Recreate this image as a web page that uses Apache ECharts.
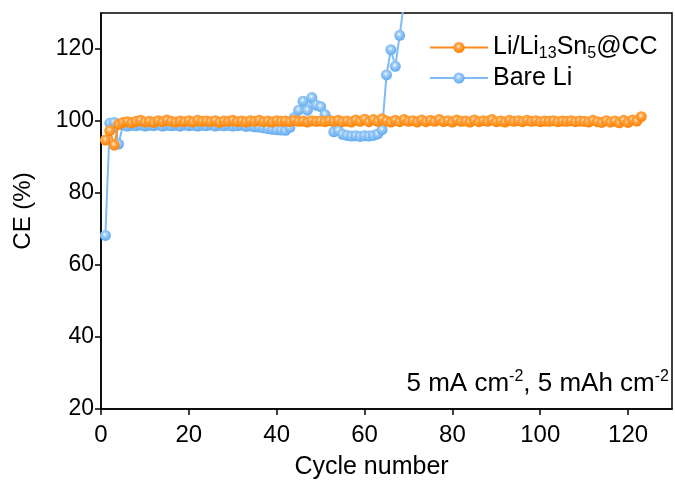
<!DOCTYPE html>
<html>
<head>
<meta charset="utf-8">
<script src="https://cdn.jsdelivr.net/npm/echarts@6/dist/echarts.min.js"></script>
<style>
  html, body { margin: 0; padding: 0; background: #fff; }
  #chart { width: 675px; height: 482px; }
</style>
</head>
<body>
<div id="chart"></div>
<script>
// Coulombic efficiency (%) per cycle, starting at cycle 1
const liSnCE = [
  94.7, 97.3, 93.3, 99.1, 99.6, 99.8, 99.5, 99.9, 100.2, 99.7,
  99.9, 99.6, 100.1, 99.8, 100.3, 99.9, 99.7, 100.0, 99.8, 100.1,
  99.7, 100.2, 99.9, 100.0, 99.8, 100.1, 99.6, 100.0, 99.9, 100.2,
  99.8, 100.0, 99.7, 100.1, 99.9, 100.2, 99.8, 100.0, 99.7, 100.1,
  99.9, 100.0, 99.8, 100.2, 99.9, 100.0, 99.7, 100.1, 99.9, 100.0,
  99.8, 100.1, 99.9, 100.2, 99.8, 100.0, 99.7, 100.3, 99.9, 100.5,
  99.8, 100.4, 99.9, 100.6, 100.0, 99.7, 100.2, 99.8, 100.4, 99.9,
  100.1, 99.7, 100.3, 99.8, 100.2, 99.9, 100.4, 99.8, 100.1, 99.7,
  100.3, 99.9, 100.0, 99.7, 100.3, 99.8, 100.1, 99.9, 100.4, 99.8,
  100.0, 99.7, 100.2, 99.9, 100.1, 99.8, 100.2, 99.9, 100.1, 99.8,
  100.0, 99.9, 100.1, 99.8, 100.0, 99.9, 100.1, 99.8, 100.0, 99.9,
  99.7, 100.2, 99.8, 99.6, 100.1, 99.7, 100.0, 99.5, 100.2, 99.6,
  100.3, 100.0, 101.2
];
const bareLiCE = [
  68.2, 99.4, 99.6, 93.6, 98.9, 98.6, 98.8, 98.7, 98.9, 98.6,
  98.8, 98.7, 98.9, 98.6, 98.8, 98.7, 98.8, 98.6, 98.9, 98.7,
  98.8, 98.6, 98.8, 98.7, 98.9, 98.6, 98.8, 98.7, 98.8, 98.6,
  98.7, 98.8, 98.5, 98.6, 98.4, 98.3, 98.1, 97.9, 97.7, 97.6,
  97.5, 97.4, 98.2, 101.0, 103.0, 105.5, 103.0, 106.5, 104.4, 104.0,
  101.8, 100.2, 97.0, 97.4, 96.3, 96.0, 95.8, 95.9, 95.7, 95.9,
  95.8, 96.0, 96.4, 97.6, 112.8, 119.8, 115.2, 123.8, 133.0
];
const xTicks = [0, 20, 40, 60, 80, 100, 120];
const yTicks = [20, 40, 60, 80, 100, 120];

const FONT = '"Liberation Sans", Arial, sans-serif';

function sphere(light, mid, edge) {
  return {
    type: 'radial', x: 0.45, y: 0.4, r: 0.6,
    colorStops: [
      { offset: 0, color: light },
      { offset: 0.35, color: mid },
      { offset: 1, color: edge }
    ]
  };
}

const toPoints = arr => arr.map((v, i) => [i + 1, v]);

const chart = echarts.init(document.getElementById('chart'), null, { renderer: 'canvas' });

const axisCommon = {
  axisLine: { show: true, onZero: false, lineStyle: { color: '#000', width: 1.5 } },
  axisTick: { show: true, inside: false, length: 6, lineStyle: { color: '#000', width: 1.5 } },
  splitLine: { show: false }
};

chart.setOption({
  animation: false,
  backgroundColor: '#fff',
  grid: {
    left: 101, right: 3, top: 13, bottom: 73,
    outerBoundsMode: 'none', containLabel: false,
    show: true, borderColor: '#000', borderWidth: 1.5
  },
  xAxis: Object.assign({}, axisCommon, {
    type: 'value', min: 0, max: 130, interval: 20,
    name: 'Cycle number', nameLocation: 'middle', nameGap: 46,
    nameTextStyle: { color: '#000', fontFamily: FONT, fontSize: 25, padding: [0, 30, 0, 0] },
    axisTick: Object.assign({}, axisCommon.axisTick, { customValues: xTicks }),
    axisLabel: { customValues: xTicks, color: '#000', fontFamily: FONT, fontSize: 24, margin: 14 }
  }),
  yAxis: Object.assign({}, axisCommon, {
    type: 'value', min: 20, max: 130, interval: 20,
    name: 'CE (%)', nameLocation: 'middle', nameGap: 66, nameRotate: 90,
    nameTextStyle: { color: '#000', fontFamily: FONT, fontSize: 24 },
    axisTick: Object.assign({}, axisCommon.axisTick, { customValues: yTicks }),
    axisLabel: { customValues: yTicks, color: '#000', fontFamily: FONT, fontSize: 23, margin: 7 }
  }),
  legend: {
    orient: 'vertical', left: 424, top: 30, itemGap: 4,
    itemWidth: 58, itemHeight: 14,
    data: ['Li/Li13Sn5@CC', 'Bare Li'],
    formatter: name => name === 'Li/Li13Sn5@CC'
      ? '{n|Li/Li}{s|13}{n|Sn}{s|5}{n|@CC}'
      : '{n|' + name + '}',
    textStyle: {
      color: '#000', fontFamily: FONT, fontSize: 25,
      rich: {
        n: { fontFamily: FONT, fontSize: 25, lineHeight: 28, color: '#000' },
        s: { fontFamily: FONT, fontSize: 16, lineHeight: 12, verticalAlign: 'bottom', color: '#000' }
      }
    }
  },
  graphic: [{
    type: 'text', right: 6, top: 369,
    style: {
      text: '{n|5 mA cm}{p|-2}{n|, 5 mAh cm}{p|-2}',
      rich: {
        n: { fontFamily: FONT, fontSize: 26, lineHeight: 29, fill: '#000' },
        p: { fontFamily: FONT, fontSize: 16, lineHeight: 12, verticalAlign: 'top', fill: '#000' }
      }
    }
  }],
  series: [
    {
      name: 'Bare Li', type: 'line', data: toPoints(bareLiCE),
      symbol: 'circle', symbolSize: 11, clip: true, z: 2,
      lineStyle: { color: '#7fbcf5', width: 2 },
      itemStyle: { color: sphere('#f2f8ff', '#9ccbf8', '#5ea9f0') }
    },
    {
      name: 'Li/Li13Sn5@CC', type: 'line', data: toPoints(liSnCE),
      symbol: 'circle', symbolSize: 11, clip: true, z: 3,
      lineStyle: { color: '#ff8a1c', width: 2 },
      itemStyle: { color: sphere('#fff0dc', '#ffa646', '#fb8100') }
    }
  ]
});
</script>
</body>
</html>
